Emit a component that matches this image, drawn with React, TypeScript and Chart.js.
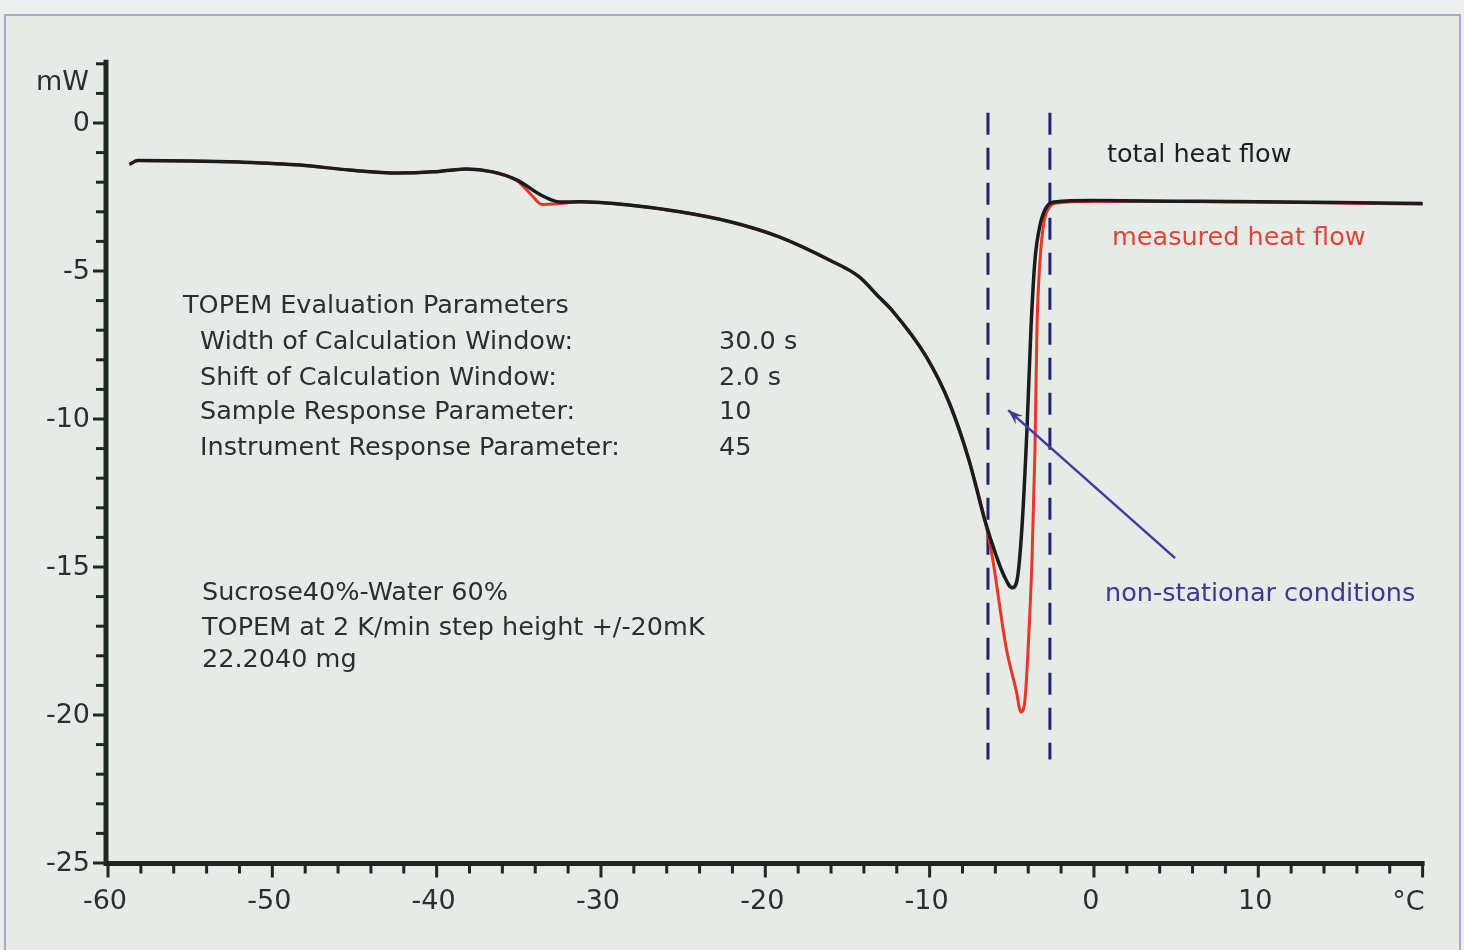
import React, { useEffect, useRef } from 'react';
import { Chart, registerables } from 'chart.js';

Chart.register(...registerables);

// ---- data ----
const totalTemps = [
  -58.7, -58.2, -55.0, -52.0, -48.3, -45.3, -42.3, -40.2, -38.2, -36.6, -35.1,
  -33.6, -32.5,
  -31.3, -28.3, -25.2, -22.2, -19.2, -16.1, -14.3, -13.1, -12.3, -10.2, -8.8, -7.6, -6.6,
  -5.96, -5.47, -4.98, -4.68, -4.38, -4.07, -3.83, -3.59, -3.28, -2.92, -2.43,
  0, 5, 10, 15, 20,
];
const totalHeatFlow = [
  -1.4, -1.27, -1.28, -1.32, -1.42, -1.59, -1.69, -1.65, -1.55, -1.65, -1.93,
  -2.45, -2.67,
  -2.66, -2.77, -3.0, -3.33, -3.84, -4.63, -5.19, -5.87, -6.32, -7.9, -9.46, -11.4, -13.5,
  -14.6, -15.3, -15.7, -15.44, -13.65, -10.27, -6.9, -4.63, -3.45, -2.87, -2.67,
  -2.62, -2.64, -2.66, -2.69, -2.72,
];

const measuredTemps = [
  -58.7, -58.2, -55.0, -52.0, -48.3, -45.3, -42.3, -40.2, -38.2, -36.6, -35.1,
  -34.2, -33.6, -32.5,
  -31.3, -28.3, -25.2, -22.2, -19.2, -16.1, -14.3, -13.1, -12.3, -10.2, -8.8, -7.6, -6.6,
  -6.2, -5.35, -4.74, -4.44, -4.2, -4.01, -3.77, -3.59, -3.47, -3.28, -3.04, -2.74, -2.25,
  0, 5, 10, 15, 20,
];
const measuredHeatFlow = [
  -1.4, -1.27, -1.28, -1.32, -1.42, -1.59, -1.69, -1.65, -1.55, -1.65, -1.95,
  -2.45, -2.75, -2.72,
  -2.66, -2.77, -3.0, -3.33, -3.84, -4.63, -5.19, -5.87, -6.32, -7.9, -9.46, -11.4, -13.5,
  -14.6, -17.7, -19.15, -19.9, -19.5, -17.8, -14.76, -11.05, -7.0, -4.63, -3.34, -2.87, -2.7,
  -2.64, -2.65, -2.67, -2.7, -2.74,
];

const windowBounds = [-6.45, -2.68]; // dashed vertical lines (°C)
const windowYRange = [0.35, -21.5];
const arrowFrom = [4.94, -14.7];
const arrowTo = [-5.22, -9.7];

const xMajorTicks = [-60, -50, -40, -30, -20, -10, 0, 10];
const yMajorTicks = [0, -5, -10, -15, -20, -25];
const xUnit = '°C';
const yUnit = 'mW';

const paramTitle = 'TOPEM Evaluation Parameters';
const paramNames = [
  'Width of Calculation Window:',
  'Shift of Calculation Window:',
  'Sample Response Parameter:',
  'Instrument Response Parameter:',
];
const paramValues = ['30.0 s', '2.0 s', '10', '45'];
const sampleLines = [
  'Sucrose40%-Water 60%',
  'TOPEM at 2 K/min step height +/-20mK',
  '22.2040 mg',
];
const totalLabel = 'total heat flow';
const measuredLabel = 'measured heat flow';
const noteLabel = 'non-stationar conditions';

const W = 1464;
const H = 950;
const AXIS = '#1d2822';
const TXT = '#2e2e2e';
const FONT = '"DejaVu Sans", sans-serif';

const decorPlugin = {
  id: 'decor',
  beforeDraw(chart: any) {
    const ctx = chart.ctx as CanvasRenderingContext2D;
    ctx.save();
    ctx.fillStyle = '#edefee';
    ctx.fillRect(0, 0, W, H);
    ctx.fillStyle = '#e6ebe8';
    ctx.fillRect(5, 15, W - 10, H - 15);
    ctx.strokeStyle = '#a6a8cc';
    ctx.lineWidth = 2;
    ctx.strokeRect(5, 15, W - 9, H);
    ctx.restore();
  },
  beforeDatasetsDraw(chart: any) {
    const ctx = chart.ctx as CanvasRenderingContext2D;
    const xs = chart.scales.x;
    const ys = chart.scales.y;
    const area = chart.chartArea;
    ctx.save();

    // axes lines
    const axX = area.left - 2;
    const axY = area.bottom + 0.5;
    ctx.strokeStyle = AXIS;
    ctx.lineCap = 'butt';
    ctx.lineWidth = 5;
    ctx.beginPath();
    ctx.moveTo(axX, area.top - 4);
    ctx.lineTo(axX, axY + 2.5);
    ctx.moveTo(axX - 2.5, axY);
    ctx.lineTo(area.right + 2, axY);
    ctx.stroke();

    // y ticks
    ctx.lineWidth = 3;
    ys.ticks.forEach((t: any) => {
      const p = ys.getPixelForValue(t.value);
      const major = yMajorTicks.includes(t.value);
      ctx.beginPath();
      ctx.moveTo(axX, p);
      ctx.lineTo(axX - (major ? 13 : 10), p);
      ctx.stroke();
    });
    // x ticks
    xs.ticks.forEach((t: any) => {
      const p = xs.getPixelForValue(t.value);
      const major = t.value % 10 === 0;
      ctx.beginPath();
      ctx.moveTo(p, axY);
      ctx.lineTo(p, axY + (major ? 14 : 10));
      ctx.stroke();
    });

    // tick labels
    ctx.fillStyle = TXT;
    ctx.font = '27px ' + FONT;
    ctx.textBaseline = 'middle';
    ctx.textAlign = 'right';
    yMajorTicks.forEach((v) => {
      ctx.fillText(String(v), 90, ys.getPixelForValue(v) + 1);
    });
    ctx.fillText(yUnit, 89, 83);
    ctx.textAlign = 'center';
    xMajorTicks.forEach((v) => {
      ctx.fillText(String(v), xs.getPixelForValue(v) - 3, 902);
    });
    ctx.textAlign = 'right';
    ctx.fillText(xUnit, area.right + 2, 903);

    // annotation text
    ctx.textAlign = 'left';
    ctx.font = '25.5px ' + FONT;
    ctx.fillStyle = TXT;
    ctx.fillText(paramTitle, 183, 306);
    paramNames.forEach((n, i) => {
      const y = [342, 378, 412, 448][i];
      ctx.fillText(n, 200, y);
      ctx.fillText(paramValues[i], 719, y);
    });
    sampleLines.forEach((s, i) => {
      ctx.fillText(s, 202, [593, 628, 660][i]);
    });
    ctx.fillStyle = '#1e1e1e';
    ctx.fillText(totalLabel, 1107, 155);
    ctx.fillStyle = '#e0453c';
    ctx.fillText(measuredLabel, 1112, 238);
    ctx.fillStyle = '#3b3992';
    ctx.fillText(noteLabel, 1105, 594);

    // dashed window lines
    ctx.strokeStyle = '#1f2370';
    ctx.lineWidth = 3;
    ctx.setLineDash([22, 13]);
    windowBounds.forEach((v) => {
      const p = xs.getPixelForValue(v);
      ctx.beginPath();
      ctx.moveTo(p, ys.getPixelForValue(windowYRange[0]));
      ctx.lineTo(p, ys.getPixelForValue(windowYRange[1]));
      ctx.stroke();
    });
    ctx.setLineDash([]);
    ctx.restore();
  },
  afterDatasetsDraw(chart: any) {
    const ctx = chart.ctx as CanvasRenderingContext2D;
    const xs = chart.scales.x;
    const ys = chart.scales.y;
    const x1 = xs.getPixelForValue(arrowFrom[0]);
    const y1 = ys.getPixelForValue(arrowFrom[1]);
    const x2 = xs.getPixelForValue(arrowTo[0]);
    const y2 = ys.getPixelForValue(arrowTo[1]);
    const ang = Math.atan2(y2 - y1, x2 - x1);
    ctx.save();
    ctx.strokeStyle = '#3f3d9c';
    ctx.fillStyle = '#3f3d9c';
    ctx.lineWidth = 2.5;
    ctx.beginPath();
    ctx.moveTo(x1, y1);
    ctx.lineTo(x2, y2);
    ctx.stroke();
    const L = 16;
    const s = 0.35;
    ctx.beginPath();
    ctx.moveTo(x2, y2);
    ctx.lineTo(x2 - L * Math.cos(ang - s), y2 - L * Math.sin(ang - s));
    ctx.lineTo(x2 - L * 0.6 * Math.cos(ang), y2 - L * 0.6 * Math.sin(ang));
    ctx.lineTo(x2 - L * Math.cos(ang + s), y2 - L * Math.sin(ang + s));
    ctx.closePath();
    ctx.fill();
    ctx.restore();
  },
};

export default function App() {
  const ref = useRef<HTMLCanvasElement | null>(null);
  useEffect(() => {
    if (!ref.current) return;
    const chart = new Chart(ref.current, {
      type: 'line',
      data: {
        datasets: [
          {
            label: totalLabel,
            data: totalTemps.map((t, i) => ({ x: t, y: totalHeatFlow[i] })),
            borderColor: '#1c1c1c',
            borderWidth: 3.5,
            pointRadius: 0,
            cubicInterpolationMode: 'monotone',
            fill: false,
            clip: false as any,
          },
          {
            label: measuredLabel,
            data: measuredTemps.map((t, i) => ({ x: t, y: measuredHeatFlow[i] })),
            borderColor: '#ec3526',
            borderWidth: 3,
            pointRadius: 0,
            cubicInterpolationMode: 'monotone',
            fill: false,
            clip: false as any,
          },
        ],
      },
      options: {
        animation: false,
        responsive: false,
        maintainAspectRatio: false,
        layout: { padding: { left: 108, right: 41.4, top: 63.8, bottom: 87 } },
        plugins: { legend: { display: false }, tooltip: { enabled: false } },
        events: [],
        scales: {
          x: {
            type: 'linear',
            min: -60,
            max: 20,
            display: false,
            ticks: { stepSize: 2 },
          },
          y: {
            type: 'linear',
            min: -25,
            max: 2,
            display: false,
            ticks: { stepSize: 1 },
          },
        },
      },
      plugins: [decorPlugin],
    });
    return () => chart.destroy();
  }, []);
  return (
    <div style={{ position: 'fixed', left: 0, top: 0, width: W, height: H }}>
      <canvas ref={ref} width={W} height={H} style={{ width: W, height: H, display: 'block' }} />
    </div>
  );
}
